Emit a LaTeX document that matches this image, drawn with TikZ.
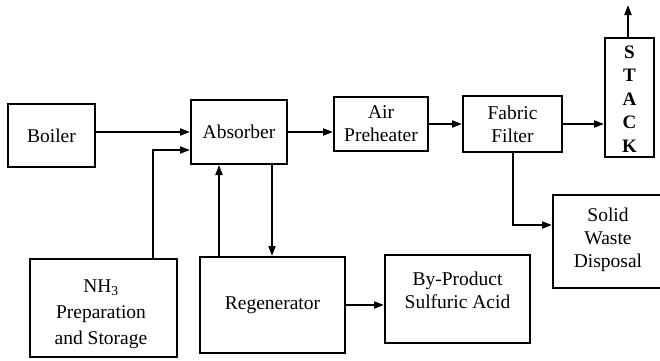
\documentclass[tikz,border=0pt]{standalone}
\usepackage{fontspec}
\setmainfont{Liberation Serif}
\usetikzlibrary{arrows.meta}
\begin{document}
\begin{tikzpicture}[x=1pt,y=-1pt,
  box/.style={draw,line width=2pt,inner sep=0pt,rectangle},
  lbl/.style={align=center,inner sep=0pt,font=\fontsize{19.5}{23}\selectfont},
  flow/.style={line width=2pt,-{Triangle[length=10pt,width=7pt]}}]
\useasboundingbox (0,0) rectangle (660,360);
% boxes
\node (boiler) [box,lbl,minimum width=87pt,minimum height=63pt] at (51.5,135.5) {Boiler};
\node (absorber) [box,lbl,minimum width=96pt,minimum height=64pt] at (239,132) {Absorber};
\node (air) [box,lbl,minimum width=94pt,minimum height=54pt] at (381,124) {Air\\Preheater};
\node (fabric) [box,lbl,minimum width=99pt,minimum height=56pt] at (512.5,124) {Fabric\\Filter};
\node (stack) [box,minimum width=49pt,minimum height=119pt] at (629.5,97.5) {};
\node (stacktxt) [lbl,font=\fontsize{19}{23.5}\selectfont\bfseries] at (629.5,99) {S\\T\\A\\C\\K};
\node (sw) [box,minimum width=110pt,minimum height=93pt] at (608,241.5) {};
\node (swtxt) [lbl] at (608,240) {Solid\\Waste\\Disposal};
\node (nh3) [box,minimum width=147pt,minimum height=98pt] at (103.5,308) {};
\node (nh3txt) [lbl,font=\fontsize{19.5}{26}\selectfont] at (101,314) {NH\textsubscript{3}\\Preparation\\and Storage};
\node (regen) [box,lbl,minimum width=145pt,minimum height=96pt] at (272.5,305) {Regenerator};
\node (bp) [box,minimum width=145pt,minimum height=88pt] at (457.5,299) {};
\node (bptxt) [lbl] at (457.5,290) {By-Product\\Sulfuric Acid};
% helper coordinates
\coordinate (j1) at (153,150);
\coordinate (j2) at (513,225);
\coordinate (top) at (628,5);
\coordinate (up) at (219,0);
\coordinate (down) at (272,0);
% connectors
\draw[flow] (boiler.east |- absorber.west) -- (absorber.west);
\draw[flow] (j1 |- nh3.north) -- (j1) -- (j1 -| absorber.west);
\draw[flow] (absorber.east) -- (absorber.east -| air.west);
\draw[flow] (air.east) -- (air.east -| fabric.west);
\draw[flow] (fabric.east) -- (fabric.east -| stack.west);
\draw[flow] (top |- stack.north) -- (top);
\draw[flow] (j2 |- fabric.south) -- (j2) -- (j2 -| sw.west);
\draw[flow] (up |- regen.north) -- (up |- absorber.south);
\draw[flow] (down |- absorber.south) -- (down |- regen.north);
\draw[flow] (regen.east) -- (regen.east -| bp.west);
\end{tikzpicture}
\end{document}
